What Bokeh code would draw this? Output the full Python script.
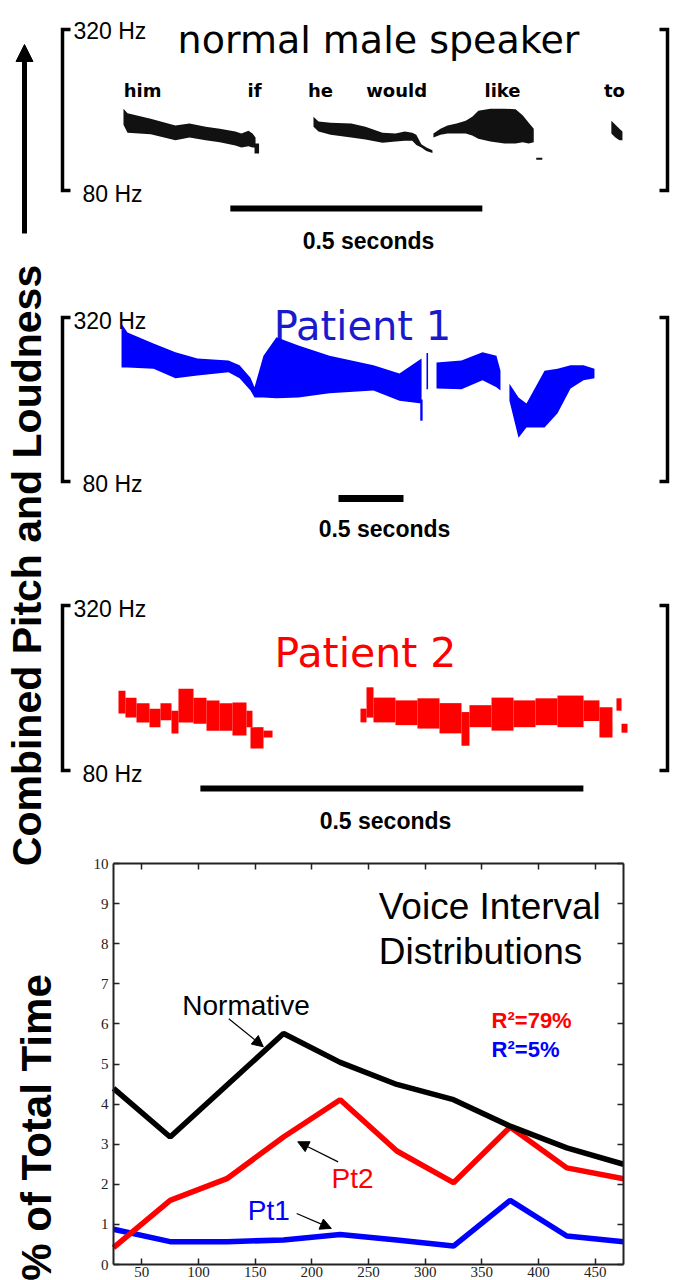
import math
from bokeh.plotting import figure
from bokeh.models import Range1d, LinearAxis, SingleIntervalTicker, Arrow, NormalHead
from bokeh.embed import file_html
from bokeh.resources import INLINE
from bokeh.core.properties import value

# ======================= DATA =======================
# Voice interval distributions (bottom chart): interval bin centre (ms) vs % of total time
interval_ms = [25, 75, 125, 175, 225, 275, 325, 375, 425, 475]
normative_pct = [4.39, 3.18, 4.47, 5.76, 5.04, 4.49, 4.11, 3.45, 2.91, 2.50]
pt2_pct = [0.42, 1.60, 2.14, 3.18, 4.11, 2.83, 2.04, 3.43, 2.41, 2.14]
pt1_pct = [0.88, 0.57, 0.57, 0.61, 0.75, 0.61, 0.46, 1.60, 0.71, 0.57]
r2_labels = ["R\u00b2=79%", "R\u00b2=5%"]

hz_top, hz_bottom = 320, 80
scale_bar_s = 0.5

# Normal male speaker: pitch/loudness band (time s, upper Hz, lower Hz)
normal_words = ["him", "if", "he", "would", "like", "to"]
normal_word_t = [0.159, 0.381, 0.512, 0.663, 0.873, 1.095]
normal_him_t = [0.121, 0.129, 0.175, 0.224, 0.252, 0.284, 0.312, 0.343, 0.355, 0.369, 0.377, 0.383]
normal_him_hi = [202, 195, 187, 177, 180, 175, 172, 168, 165, 169, 165, 159]
normal_him_lo = [178, 166, 164, 155, 159, 155, 152, 147, 144, 146, 144, 144]
normal_if_t = [0.381, 0.390]
normal_if_hi = [150, 150]
normal_if_lo = [135, 135]
normal_would_t = [0.498, 0.508, 0.532, 0.573, 0.601, 0.635, 0.661, 0.679, 0.694, 0.702, 0.712, 0.722, 0.734]
normal_would_hi = [190, 183, 181, 180, 175, 166, 165, 168, 166, 163, 149, 144, 140]
normal_would_lo = [175, 168, 163, 159, 156, 151, 153, 154, 154, 148, 144, 139, 136]
normal_like_t = [0.736, 0.750, 0.764, 0.782, 0.800, 0.813, 0.825, 0.849, 0.877, 0.899, 0.913, 0.925, 0.935]
normal_like_hi = [165, 172, 177, 180, 184, 190, 199, 202, 202, 201, 192, 181, 172]
normal_like_lo = [159, 163, 165, 165, 165, 162, 157, 153, 150, 150, 152, 150, 152]
normal_dash_t = [0.940, 0.952]
normal_dash_hi = [129, 129]
normal_dash_lo = [126, 126]
normal_to_t = [1.089, 1.097, 1.105, 1.111]
normal_to_hi = [184, 178, 172, 168]
normal_to_lo = [165, 159, 155, 155]

# Patient 1 band
pt1_a_t = [0.454, 0.500, 0.700, 0.869, 1.038, 1.277, 1.362, 1.446, 1.477, 1.546, 1.646, 1.815, 2.054, 2.392, 2.592, 2.762]
pt1_a_hi = [311, 298, 282, 269, 260, 257, 250, 232, 218, 264, 291, 279, 264, 250, 238, 260]
pt1_a_lo = [247, 247, 245, 231, 235, 240, 231, 213, 203, 203, 202, 203, 209, 213, 198, 194]
pt1_tail_t = [2.752, 2.770]
pt1_tail_hi = [200, 200]
pt1_tail_lo = [169, 169]
pt1_speck_t = [2.800, 2.812]
pt1_speck_hi = [268, 268]
pt1_speck_lo = [215, 215]
pt1_b_t = [2.877, 3.069, 3.231, 3.338, 3.369]
pt1_b_hi = [254, 257, 269, 264, 242]
pt1_b_lo = [216, 215, 228, 218, 213]
pt1_c_t = [3.438, 3.508, 3.569, 3.708, 3.808, 3.908, 4.008, 4.092]
pt1_c_hi = [223, 203, 194, 242, 245, 250, 250, 245]
pt1_c_lo = [198, 144, 159, 159, 180, 216, 228, 231]

# Patient 2 pitch blocks (time start, time end, Hz low, Hz high)
pt2_t0 = [0.0731, 0.0822, 0.0966, 0.1136, 0.1279, 0.1423, 0.1514, 0.1710, 0.1880, 0.2050, 0.2219, 0.2402, 0.2454, 0.2624,
          0.3890, 0.3969, 0.4060, 0.4347, 0.4634, 0.4922, 0.5209, 0.5313, 0.5601, 0.5888, 0.6175, 0.6462, 0.6802, 0.7010, 0.7232, 0.7298]
pt2_t1 = [0.0822, 0.0966, 0.1136, 0.1279, 0.1423, 0.1514, 0.1710, 0.1880, 0.2050, 0.2219, 0.2402, 0.2480, 0.2624, 0.2742,
          0.3969, 0.4060, 0.4347, 0.4634, 0.4922, 0.5209, 0.5313, 0.5601, 0.5888, 0.6175, 0.6462, 0.6802, 0.7010, 0.7180, 0.7298, 0.7376]
pt2_lo = [163, 157, 150, 143, 153, 134, 150, 148, 138, 138, 131, 143, 112, 128,
          150, 157, 150, 146, 141, 134, 116, 143, 138, 143, 146, 143, 152, 128, 167, 135]
pt2_hi = [196, 186, 178, 170, 178, 167, 199, 186, 182, 178, 179, 167, 143, 138,
          170, 201, 186, 182, 185, 178, 165, 175, 186, 182, 185, 189, 182, 172, 185, 148]

normal_bar_start = 0.333
pt1_bar_start = 2.123
pt2_bar_start = 0.180

# ======================= LAYOUT =======================
SANS = value("Liberation Sans")
COMIC = value("DejaVu Sans")
W, H = 683, 1280

p = figure(width=W, height=H, x_range=Range1d(0, W), y_range=Range1d(H, 0),
           x_axis_type=None, y_axis_type=None, min_border=0, toolbar_location=None,
           output_backend="svg", outline_line_color=None)


def add_panel(key, left_px, y320_px, y80_px, px_per_s):
    p.extra_x_ranges[key + "_t"] = Range1d((0 - left_px) / px_per_s, (W - left_px) / px_per_s)
    k = (y80_px - y320_px) / (hz_top - hz_bottom)
    p.extra_y_ranges[key + "_hz"] = Range1d(hz_top - (H - y320_px) / k, hz_top - (0 - y320_px) / k)
    p.line(x=[left_px + 8, left_px, left_px, left_px + 8], y=[hz_top, hz_top, hz_bottom, hz_bottom],
           y_range_name=key + "_hz", line_width=3.5, line_color="black", line_join="miter")
    p.line(x=[659, 667, 667, 659], y=[hz_top, hz_top, hz_bottom, hz_bottom],
           y_range_name=key + "_hz", line_width=3.5, line_color="black", line_join="miter")
    return key + "_t", key + "_hz"


def band(t, hi, lo, xr, yr, color):
    p.varea(x=t, y1=lo, y2=hi, x_range_name=xr, y_range_name=yr, fill_color=color)


def hz_labels(y_top, y_bot):
    p.text(x=[73], y=[y_top], text=["320 Hz"], text_font=SANS, text_font_size="23px",
           text_baseline="middle", text_align="left", text_color="black")
    p.text(x=[82], y=[y_bot], text=["80 Hz"], text_font=SANS, text_font_size="23px",
           text_baseline="middle", text_align="left", text_color="black")


def seconds_label(xc, yc):
    p.text(x=[xc], y=[yc], text=["0.5 seconds"], text_font=SANS, text_font_style="bold",
           text_font_size="23px", text_baseline="middle", text_align="center", text_color="black")


# ---- panel 0: normal male speaker
xr, yr = add_panel("p0", 62, 29, 190, 504)
hz_labels(30, 193)
p.text(x=[378], y=[39], text=["normal male speaker"], text_font=COMIC, text_font_size="38px",
       text_baseline="alphabetic", text_align="center", text_color="black")
p.text(x=normal_word_t, y=[90] * len(normal_words), text=normal_words, x_range_name=xr,
       text_font=COMIC, text_font_style="bold", text_font_size="18px",
       text_baseline="alphabetic", text_align="center", text_color="black")
for t, hi, lo in [(normal_him_t, normal_him_hi, normal_him_lo), (normal_if_t, normal_if_hi, normal_if_lo),
                  (normal_would_t, normal_would_hi, normal_would_lo), (normal_like_t, normal_like_hi, normal_like_lo),
                  (normal_dash_t, normal_dash_hi, normal_dash_lo), (normal_to_t, normal_to_hi, normal_to_lo)]:
    band(t, hi, lo, xr, yr, "#111111")
p.line(x=[normal_bar_start, normal_bar_start + scale_bar_s], y=[208, 208], x_range_name=xr,
       line_width=6, line_color="black")
seconds_label(368, 240)

# ---- panel 1: Patient 1
xr, yr = add_panel("p1", 62, 317, 481, 130)
hz_labels(320, 483)
p.text(x=[362], y=[325], text=["Patient 1"], text_font=COMIC, text_font_size="40px",
       text_baseline="alphabetic", text_align="center", text_color="#1a1acd")
for t, hi, lo in [(pt1_a_t, pt1_a_hi, pt1_a_lo), (pt1_tail_t, pt1_tail_hi, pt1_tail_lo),
                  (pt1_speck_t, pt1_speck_hi, pt1_speck_lo), (pt1_b_t, pt1_b_hi, pt1_b_lo),
                  (pt1_c_t, pt1_c_hi, pt1_c_lo)]:
    band(t, hi, lo, xr, yr, "#0000ff")
p.line(x=[pt1_bar_start, pt1_bar_start + scale_bar_s], y=[498, 498], x_range_name=xr,
       line_width=7, line_color="black")
seconds_label(384, 528)

# ---- panel 2: Patient 2
xr, yr = add_panel("p2", 62, 605, 770, 766)
hz_labels(608, 773)
p.text(x=[365], y=[652], text=["Patient 2"], text_font=COMIC, text_font_size="41px",
       text_baseline="alphabetic", text_align="center", text_color="#ff0000")
p.quad(left=pt2_t0, right=pt2_t1, bottom=pt2_lo, top=pt2_hi, x_range_name=xr, y_range_name=yr,
       fill_color="#ff0000", line_color=None)
p.line(x=[pt2_bar_start, pt2_bar_start + scale_bar_s], y=[788, 788], x_range_name=xr,
       line_width=6, line_color="black")
seconds_label(385, 820)

# ---- bottom chart (own data ranges mapped onto its box)
CL, CR, CT, CB = 113, 623, 863, 1264
x0, x1 = 25, 475
y0, y1 = 0, 10
sx = (x1 - x0) / (CR - CL)
sy = (y1 - y0) / (CB - CT)
p.extra_x_ranges["cx"] = Range1d(x0 - CL * sx, x0 + (W - CL) * sx)
p.extra_y_ranges["cy"] = Range1d(y0 - (H - CB) * sy, y0 + CB * sy)


def chart_axis(side, loc, bounds, interval, labels):
    ax = LinearAxis(x_range_name="cx", y_range_name="cy", fixed_location=loc, bounds=bounds,
                    ticker=SingleIntervalTicker(interval=interval, num_minor_ticks=0))
    ax.major_tick_in = 6
    ax.major_tick_out = 0
    ax.minor_tick_in = 0
    ax.minor_tick_out = 0
    ax.axis_line_color = "#222222"
    ax.axis_line_width = 2
    ax.major_tick_line_color = "#222222"
    ax.major_tick_line_width = 1.5
    ax.major_label_text_font = "Liberation Serif"
    ax.major_label_text_font_size = "15px"
    ax.major_label_text_color = "#222222" if labels else None
    ax.major_label_standoff = 5 if side == "left" else 2
    p.add_layout(ax, side)


chart_axis("left", x0, (y0, y1), 1, True)
chart_axis("right", x1, (y0, y1), 1, False)
chart_axis("below", y0, (x0, x1), 50, True)
chart_axis("above", y1, (x0, x1), 50, False)

p.line(interval_ms, pt1_pct, x_range_name="cx", y_range_name="cy", line_width=5.5, line_color="#0000ff")
p.line(interval_ms, pt2_pct, x_range_name="cx", y_range_name="cy", line_width=5.5, line_color="#ff0000")
p.line(interval_ms, normative_pct, x_range_name="cx", y_range_name="cy", line_width=5.5, line_color="black")

ckw = dict(x_range_name="cx", y_range_name="cy", text_font=SANS, text_baseline="middle")
p.text(x=[259, 259], y=[8.92, 7.80], text=["Voice Interval", "Distributions"], text_font_size="37px",
       text_align="left", text_color="black", **ckw)
p.text(x=[142], y=[6.45], text=["Normative"], text_font_size="28px", text_align="center",
       text_color="black", **ckw)
p.text(x=[236], y=[2.14], text=["Pt2"], text_font_size="28px", text_align="center",
       text_color="#ff0000", **ckw)
p.text(x=[162], y=[1.35], text=["Pt1"], text_font_size="28px", text_align="center",
       text_color="#0000ff", **ckw)
p.text(x=[358.6], y=[6.08], text=[r2_labels[0]], text_font_style="bold", text_font_size="22px",
       text_align="left", text_color="#ff0000", **ckw)
p.text(x=[358.6], y=[5.36], text=[r2_labels[1]], text_font_style="bold", text_font_size="22px",
       text_align="left", text_color="#0000ff", **ckw)
for (xs, ys, xe, ye) in [(126.7, 6.13, 157.2, 5.43), (223.2, 2.56, 187.6, 3.06), (186.6, 1.27, 217.2, 0.90)]:
    p.add_layout(Arrow(end=NormalHead(size=11, fill_color="black", line_color="black", line_width=1),
                       x_start=xs, y_start=ys, x_end=xe, y_end=ye, line_width=1.2, line_color="black",
                       x_range_name="cx", y_range_name="cy"))

# ---- left vertical labels and arrow
p.add_layout(Arrow(end=NormalHead(size=17, fill_color="black", line_color="black"),
                   x_start=24, y_start=233, x_end=24, y_end=44, line_width=5, line_color="black"))
p.text(x=[26], y=[565], text=["Combined Pitch and Loudness"], angle=math.pi / 2,
       text_font=SANS, text_font_style="bold", text_font_size="41px",
       text_align="center", text_baseline="alphabetic", text_color="black")
p.text(x=[36], y=[1127], text=["% of Total Time"], angle=math.pi / 2,
       text_font=SANS, text_font_style="bold", text_font_size="42px",
       text_align="center", text_baseline="alphabetic", text_color="black")

open("out.html", "w").write(file_html(p, INLINE))
